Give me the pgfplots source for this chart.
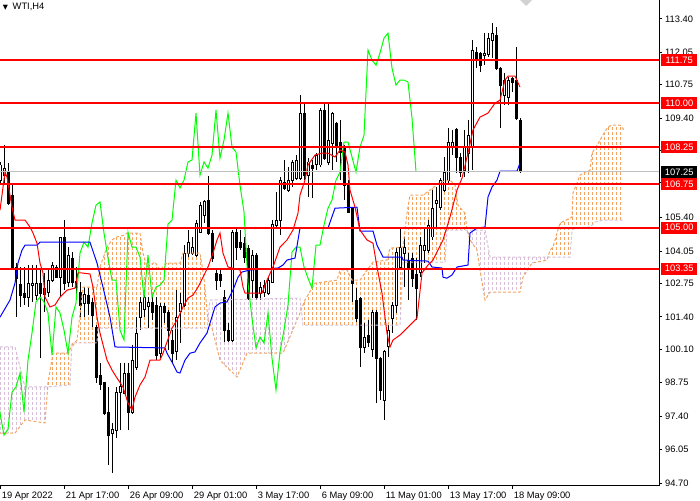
\documentclass[border=0pt]{standalone}
\usepackage{pgfplots}
\pgfplotsset{compat=1.18}
\usepackage{pgfplotstable}
\usepgfplotslibrary{fillbetween}
\usetikzlibrary{patterns}
\usepackage{fontspec}
\setmainfont{Liberation Sans}
\newfontfamily\dejavu{DejaVu Sans}
\definecolor{sandy}{HTML}{F4A460}
\definecolor{thist}{HTML}{D8BFD8}
\definecolor{silverc}{HTML}{C0C0C0}
\definecolor{mtlime}{HTML}{00FF00}
\definecolor{mtred}{HTML}{FF0000}
\definecolor{mtblue}{HTML}{0000FF}
\pgfdeclarepatternformonly{vdash}{\pgfqpoint{-0.5pt}{-0.5pt}}{\pgfqpoint{3.5pt}{4.25pt}}{\pgfqpoint{3pt}{3.75pt}}{%
  \pgfsetlinewidth{0.75pt}\pgfsetbuttcap
  \pgfpathmoveto{\pgfqpoint{0pt}{0pt}}\pgfpathlineto{\pgfqpoint{0pt}{2.25pt}}\pgfusepath{stroke}}

\pgfplotstableread{
i o h l c
0 106.91 107.64 106.71 107.52
1 107.11 108.32 106.79 107.39
2 107.23 107.60 105.90 105.98
3 106.31 106.79 103.29 103.41
4 103.41 103.57 101.39 102.96
5 102.72 103.41 101.80 102.28
6 102.36 103.41 101.88 102.20
7 102.20 103.49 101.80 102.76
8 102.68 103.49 102.00 102.76
9 102.28 103.49 102.08 102.76
10 102.76 103.29 99.74 102.36
11 102.56 103.17 101.60 102.32
12 102.40 103.29 102.20 102.88
13 102.88 103.61 102.80 103.49
14 103.41 103.49 102.96 103.00
15 103.00 104.62 102.20 104.58
16 104.58 105.30 102.48 102.76
17 102.80 104.21 102.60 103.89
18 103.77 104.01 102.60 102.80
19 102.84 103.41 102.20 102.60
20 102.40 102.80 101.39 101.88
21 101.96 102.60 101.39 102.32
22 102.28 102.56 101.47 101.96
23 102.00 102.16 100.99 101.47
24 100.99 101.07 98.74 98.98
25 99.06 99.54 98.45 98.66
26 98.74 98.78 97.45 97.53
27 97.57 98.58 95.44 96.64
28 96.72 97.13 95.11 96.88
29 96.84 98.58 96.52 98.37
30 98.37 99.54 96.84 98.58
31 98.33 99.54 98.33 99.14
32 99.14 99.54 96.84 97.57
33 97.57 100.27 97.49 99.66
34 99.38 101.39 99.26 100.75
35 101.39 102.20 100.87 102.00
36 101.68 102.48 101.39 102.20
37 101.80 102.20 100.95 102.00
38 102.00 102.28 101.27 101.56
39 101.88 102.20 99.66 99.86
40 99.94 101.96 99.74 101.80
41 101.80 101.96 101.15 101.56
42 101.56 101.68 100.07 100.87
43 100.47 100.87 99.54 99.94
44 99.99 102.48 99.66 101.39
45 101.60 102.36 100.35 101.96
46 101.88 104.29 101.80 103.97
47 103.97 104.90 103.81 104.41
48 103.97 104.62 103.89 104.21
49 103.89 105.30 103.81 105.18
50 104.82 106.03 104.78 105.90
51 105.50 106.11 105.18 106.03
52 106.11 107.07 104.70 104.78
53 104.78 104.90 103.61 103.77
54 103.17 103.37 102.48 102.88
55 103.09 103.29 102.60 102.88
56 102.20 102.48 100.39 100.87
57 100.87 101.15 100.39 100.47
58 100.47 104.90 100.39 104.82
59 104.82 104.98 103.69 104.21
60 104.41 104.90 104.09 104.21
61 104.37 104.62 103.57 103.81
62 104.17 104.29 102.08 102.16
63 102.88 104.09 102.16 103.89
64 103.89 103.97 102.08 102.20
65 102.36 102.80 102.08 102.60
66 102.40 102.88 102.20 102.68
67 102.36 103.00 102.28 102.88
68 102.80 105.30 102.76 105.14
69 105.10 106.43 105.02 105.30
70 105.30 107.03 104.70 106.91
71 106.83 107.72 106.51 106.59
72 106.51 107.44 106.43 106.91
73 106.91 107.72 106.63 107.64
74 106.99 107.92 106.91 107.72
75 106.99 110.33 106.91 109.61
76 109.61 110.05 106.91 107.11
77 107.11 107.80 106.23 107.64
78 107.52 107.72 106.19 107.39
79 107.52 108.00 107.31 107.92
80 107.52 109.81 107.44 109.73
81 109.73 110.01 107.72 107.80
82 107.60 110.01 107.52 108.52
83 108.40 109.65 107.31 109.61
84 109.21 109.25 107.64 108.24
85 108.44 109.33 106.91 108.04
86 108.24 108.32 106.11 106.71
87 106.79 106.91 105.58 105.62
88 105.78 105.82 102.00 102.76
89 102.08 102.56 101.19 101.35
90 102.16 102.20 99.38 100.15
91 100.15 101.15 99.94 100.59
92 100.67 101.27 100.19 100.35
93 100.07 101.68 99.78 101.56
94 101.56 101.68 97.93 99.74
95 99.74 99.78 98.05 98.45
96 98.05 100.07 97.25 99.99
97 100.19 101.07 99.78 100.87
98 101.35 102.00 100.75 101.88
99 101.88 104.21 101.56 104.01
100 103.41 105.02 103.29 104.21
101 103.97 104.62 102.60 104.21
102 103.69 103.97 102.08 103.41
103 103.77 103.97 102.60 102.96
104 103.09 103.77 101.27 102.56
105 103.17 104.62 103.00 104.29
106 104.09 105.02 103.57 104.29
107 104.09 105.30 103.97 105.10
108 104.62 106.51 104.50 105.78
109 105.98 106.63 105.02 106.11
110 105.82 106.99 105.70 106.91
111 106.51 107.84 106.43 107.23
112 106.91 109.01 106.79 108.44
113 108.24 108.93 107.92 108.44
114 108.93 109.01 107.19 107.84
115 107.84 108.00 107.03 107.23
116 107.31 108.93 107.03 108.24
117 108.00 109.33 107.19 108.72
118 108.24 112.55 107.31 112.15
119 112.07 112.27 111.42 111.74
120 112.03 112.07 111.26 111.54
121 111.95 112.83 111.54 112.03
122 111.95 112.83 111.87 112.63
123 112.55 113.23 111.82 112.83
124 112.75 113.07 111.34 111.42
125 111.42 111.46 109.01 110.74
126 110.33 111.22 109.93 110.94
127 110.25 111.06 109.93 110.94
128 111.02 111.06 110.46 110.86
129 110.94 112.27 109.33 109.41
130 109.33 109.41 107.20 107.25
}\cand

\pgfplotstableread{
x y
0 105.70
1.25 107.23
1.75 107.03
3 105.82
3.75 105.30
6.25 105.30
7.5 105.02
8.25 104.78
9.25 104.37
10 103.57
10.75 103.17
11.25 102.20
12.5 101.80
13.75 101.88
15 102.20
16.75 102.48
18.75 102.56
19.5 103.17
20.5 103.17
22.5 103.13
23.25 102.60
24.25 101.39
25 100.75
26.75 99.66
28 99.26
29.25 98.94
30.75 98.58
32 97.93
33 97.65
33.75 98.17
35 98.66
36.25 98.98
37.5 99.66
40 99.66
40.75 99.94
43 100.95
44.25 101.27
45.75 101.80
47 102.16
48.25 102.28
49.5 102.60
50.75 103.00
52 103.41
53.25 103.97
54.25 104.50
55 104.78
55.75 103.97
57 103.41
60 103.29
60.75 102.60
61.25 102.36
65.5 102.36
66.75 102.88
68.25 103.41
70 104.21
71.75 104.50
73.25 104.90
74.5 105.58
75 106.31
76.25 106.91
77 107.52
78.75 107.92
80.5 108.00
82 108.00
83.75 107.84
85 108.12
86.25 108.04
87 107.52
87.5 106.51
88.75 105.82
90 104.90
91.75 104.50
93.25 104.37
94.25 103.41
95.5 102.36
96.75 100.75
97.5 100.19
98.25 100.47
100 100.67
102.5 101.07
104.25 101.35
105.5 103.17
107 103.49
108.25 103.69
110.75 104.50
112.5 105.42
114.25 106.51
115.5 106.99
117 108.00
118.25 108.93
120 109.45
122 109.61
123.75 110.01
125 110.13
126.25 110.94
127 111.10
128.75 111.10
130 110.66
}\tenkan

\pgfplotstableread{
x y
0 101.39
2.5 102.08
3.75 102.76
4.5 103.57
5.5 104.09
6.25 104.29
9.25 104.29
10 104.41
22.5 104.41
24.25 103.57
25.75 102.60
27.5 101.39
28.75 100.19
41.25 100.15
41.75 99.94
43 99.58
44.25 99.18
45 99.14
46.25 99.66
47.5 99.94
48.75 99.99
50 100.35
51.75 100.75
52.5 101.15
53.75 101.80
55 101.96
56.75 102.00
58.25 102.48
59.5 103.00
60.5 103.21
62.5 103.29
69.5 103.37
70.75 103.49
71.75 103.69
73.75 103.77
75 104.98
82 104.98
83.75 105.78
89.25 105.82
90 104.86
93.25 104.86
94.25 104.29
95.75 103.81
100.5 103.81
100.75 103.69
107 103.65
108 103.41
110.5 103.37
110.75 103.00
111.75 102.96
113 103.09
114.25 103.41
117 103.49
117.5 104.78
119.25 104.98
121.25 105.02
122 106.23
123 106.63
124.25 106.91
125 107.27
129.25 107.27
130 107.60
}\kijun

\pgfplotstableread{
x y
0 96.72
3.75 96.72
6.25 97.25
11.25 97.13
12 98.74
13.25 99.94
16.75 99.94
19.25 100.47
20.75 102.60
24.25 102.60
25 103.41
26.75 104.21
28 104.50
29.25 104.62
31.25 104.70
31.75 104.78
35 104.78
35.75 103.97
36.75 103.41
38.75 103.61
40 103.29
41.75 103.57
45 103.57
45.75 103.97
50 103.97
51 102.96
52 101.27
53 100.95
53.75 100.47
55 99.66
56.75 99.38
59.25 98.98
61.75 99.94
70.75 99.94
75 101.56
76.25 102.08
78.75 102.76
84.25 102.88
85 103.29
86.75 103.29
88 102.88
90 102.88
91.25 103.17
93.25 103.61
96.75 103.69
97.5 104.17
100.75 104.21
101.75 105.58
102.5 106.31
105.75 106.31
107.5 106.51
110 106.83
112.5 106.91
113.75 106.71
114.5 105.90
116.25 105.58
116.75 104.90
117.5 104.50
119.25 104.09
120 103.29
121.25 102.08
122.5 102.40
130 102.40
130.75 103.00
133 103.57
136.75 103.69
137.5 104.09
138.25 104.21
139.25 104.78
140 105.18
143 105.42
143.25 106.39
144.25 106.79
145 107.11
146.25 107.23
147.5 107.31
148 108.00
149 108.24
150 108.52
151 108.80
152 109.05
153 109.13
155 109.13
156 108.93
}\spanA

\pgfplotstableread{
x y
0 100.19
3.75 100.19
6.25 98.58
11.75 98.58
17.5 98.66
18 100.35
24.25 100.35
24.5 100.95
51.75 100.95
52.5 102.08
75 102.16
75.75 101.07
100 101.07
100.75 103.61
111.25 103.61
111.75 104.90
121.25 104.90
122.5 103.81
142.5 103.81
143 104.90
143.75 104.98
147.5 105.02
148.75 105.22
150.75 105.30
156 105.30
}\spanB

\begin{document}
\begin{tikzpicture}
\begin{axis}[
  at={(0pt,10.5pt)}, anchor=south west,
  scale only axis, width=494.25pt, height=364.5pt,
  xmin=0, xmax=164.75, ymin=94.59, ymax=114.165,
  axis x line*=bottom, axis y line*=right,
  axis line style={black, line width=0.75pt},
  tick align=outside, major tick length=2.25pt,
  tick style={black, line width=0.75pt},
  xtick={0,16,32,48,64,80,96,112,128},
  xticklabels={19 Apr 2022,21 Apr 17:00,26 Apr 09:00,29 Apr 01:00,3 May 17:00,6 May 09:00,11 May 01:00,13 May 17:00,18 May 09:00},
  ytick={94.70,96.05,97.40,98.75,100.10,101.40,102.75,104.05,105.40,106.80,108.10,109.40,110.75,112.05,113.40},
  yticklabels={94.70,96.05,97.40,98.75,100.10,101.40,102.75,104.05,105.40,106.80,108.10,109.40,110.75,112.05,113.40},
  xticklabel style={anchor=north west, inner sep=0pt, xshift=1.2pt, yshift=-2pt, font=\fontsize{7}{8}\selectfont},
  yticklabel style={anchor=west, inner sep=0pt, xshift=2.2pt, font=\fontsize{7}{8}\selectfont},
  cs/.style={forget plot, only marks, mark=*, mark size=0pt, mark options={draw opacity=0, fill opacity=0}},
]
% candles: wicks
\addplot[cs,
  error bars/.cd, y dir=both, y explicit, error mark=none,
  error bar style={line width=0.75pt, black, solid}]
  table[x=i, y expr={(\thisrow{h}+\thisrow{l})/2}, y error expr={(\thisrow{h}-\thisrow{l})/2}] {\cand};
% bodies
\addplot[cs,
  error bars/.cd, y dir=both, y explicit, error mark=none,
  error bar style={line width=2.25pt, black, solid}]
  table[x=i, y expr={(\thisrow{o}+\thisrow{c})/2}, y error expr={abs(\thisrow{o}-\thisrow{c})/2+0.02}] {\cand};
% hollow up candles
\addplot[cs,
  restrict expr to domain={\thisrow{c}-\thisrow{o}}{0.06:100},
  error bars/.cd, y dir=both, y explicit, error mark=none,
  error bar style={line width=0.75pt, white, solid}]
  table[x=i, y expr={(\thisrow{o}+\thisrow{c})/2}, y error expr={(\thisrow{c}-\thisrow{o})/2-0.02}] {\cand};

% cloud
\addplot[name path=A, sandy, line width=0.75pt, dash pattern=on 2.25pt off 1.5pt] table[x=x,y=y] {\spanA};
\addplot[name path=B, thist, line width=0.75pt, dash pattern=on 2.25pt off 1.5pt] table[x=x,y=y] {\spanB};
\addplot[pattern=vdash, pattern color=thist, draw=none] fill between[of=A and B, soft clip={domain=0:12}];
\addplot[pattern=vdash, pattern color=sandy, draw=none] fill between[of=A and B, soft clip={domain=11.9:52}];
\addplot[pattern=vdash, pattern color=thist, draw=none] fill between[of=A and B, soft clip={domain=51.9:75.6}];
\addplot[pattern=vdash, pattern color=sandy, draw=none] fill between[of=A and B, soft clip={domain=75.5:116.8}];
\addplot[pattern=vdash, pattern color=thist, draw=none] fill between[of=A and B, soft clip={domain=116.75:137.2}];
\addplot[pattern=vdash, pattern color=sandy, draw=none] fill between[of=A and B, soft clip={domain=137:156}];

% ichimoku lines
\addplot[mtlime, line width=0.75pt] table[x expr=\thisrow{i}-26, y=c] {\cand};
\addplot[mtblue, line width=0.75pt] table[x=x,y=y] {\kijun};
\addplot[mtred, line width=0.75pt] table[x=x,y=y] {\tenkan};

% price line and levels
\addplot[silverc, line width=0.75pt] coordinates {(0,107.25) (164.75,107.25)};
\addplot[mtred, line width=1.5pt] coordinates {(0,111.75) (164.75,111.75)};
\addplot[mtred, line width=1.5pt] coordinates {(0,110.00) (164.75,110.00)};
\addplot[mtred, line width=1.5pt] coordinates {(0,108.25) (164.75,108.25)};
\addplot[mtred, line width=1.5pt] coordinates {(0,106.75) (164.75,106.75)};
\addplot[mtred, line width=1.5pt] coordinates {(0,105.00) (164.75,105.00)};
\addplot[mtred, line width=1.5pt] coordinates {(0,103.35) (164.75,103.35)};

\coordinate (L1) at (axis cs:164.75,111.75);
\coordinate (L2) at (axis cs:164.75,110.00);
\coordinate (L3) at (axis cs:164.75,108.25);
\coordinate (L4) at (axis cs:164.75,106.75);
\coordinate (L5) at (axis cs:164.75,105.00);
\coordinate (L6) at (axis cs:164.75,103.35);
\coordinate (LP) at (axis cs:164.75,107.25);
\end{axis}
\tikzset{pl/.style={anchor=west, text=white, inner xsep=1pt, inner ysep=0pt, minimum height=9pt, minimum width=27pt, text height=5.1pt, text depth=0pt, font=\fontsize{7}{8}\selectfont}}
\node[pl, fill=mtred] at ([xshift=1.5pt]L1) {111.75};
\node[pl, fill=mtred] at ([xshift=1.5pt]L2) {110.00};
\node[pl, fill=mtred] at ([xshift=1.5pt]L3) {108.25};
\node[pl, fill=black] at ([xshift=1.5pt]LP) {107.25};
\node[pl, fill=mtred] at ([xshift=1.5pt]L4) {106.75};
\node[pl, fill=mtred] at ([xshift=1.5pt]L5) {105.00};
\node[pl, fill=mtred] at ([xshift=1.5pt]L6) {103.35};
\node[anchor=north west, inner sep=0pt, font=\fontsize{7}{8}\selectfont] at (2pt,373pt) {{\dejavu\fontsize{5}{6}\selectfont ▼}\hspace{3.5pt}WTI,H4};
\fill[gray!35] (390pt,375pt) -- (399pt,375pt) -- (394.5pt,370.5pt) -- cycle;
\pgfresetboundingbox
\path[use as bounding box] (0pt,0pt) rectangle (525pt,375pt);
\end{tikzpicture}
\end{document}
